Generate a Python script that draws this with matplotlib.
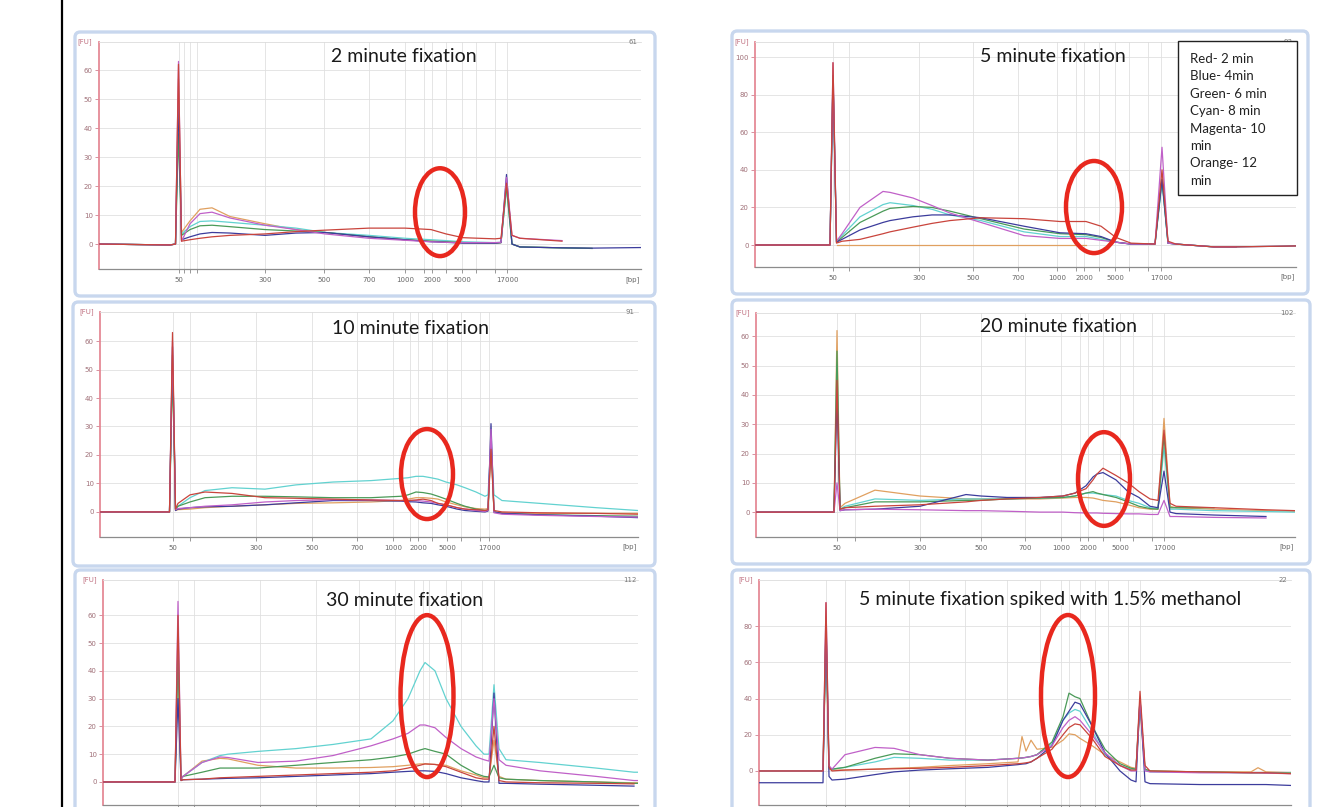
import numpy as np
import matplotlib
matplotlib.use("Agg")
import matplotlib.pyplot as plt
from matplotlib.patches import Ellipse, FancyBboxPatch, Rectangle
from matplotlib.lines import Line2D

nan = np.nan

# ---------------- data ----------------
# x = migration position along each trace, y = fluorescence [FU]
SERIES = ["Red", "Blue", "Green", "Cyan", "Magenta", "Orange"]
LEGEND_LINES = ["Red- 2 min", "Blue- 4min", "Green- 6 min", "Cyan- 8 min",
                "Magenta- 10", "min", "Orange- 12", "min"]

# 2 minute fixation
P1_X = [99, 170, 175.5, 178.5, 181.5, 190, 200, 212, 230, 265, 296, 325, 369, 405,
        431, 446, 463, 495, 501, 506.5, 512, 520, 562, 592, 641]
P1_RED = [0, -0.3, 0, 62, 1, 1.5, 2, 2.5, 3, 3.5, 4.3, 4.8, 5.5, 5.5, 5, 3.5, 2.2, 1.8, 2, 21, 3, 2, 1, nan, nan]
P1_BLUE = [0, -0.3, 0, 50, 1.5, 2.5, 3.5, 4, 3.8, 3, 3.8, 4, 2.5, 1.5, 0.8, 0.6, 0.3, 0.3, 0.5, 24, 0, -1, -1.3, -1.4, -1.2]
P1_GREEN = [0, -0.3, 0, 38, 3, 5, 6.3, 6.5, 6, 5, 4.5, 4, 2.5, 1.5, 1, 0.8, 0.5, 0.3, 0.5, 20, 0, -1, -1.3, -1.5, nan]
P1_CYAN = [0, -0.3, 0, 45, 3.5, 6, 7.8, 8, 7.5, 6.5, 5.5, 4, 3, 2, 1.5, 1.2, 0.8, 0.5, 0.6, 19, 0, -1, -1.3, -1.5, nan]
P1_MAGENTA = [0, -0.3, 0, 63, 1, 7, 10.5, 11, 9, 6.5, 5, 3.5, 2, 1.3, 0.8, 0.6, 0.5, 0.5, 0.6, 23, 3, 2, 1.2, nan, nan]
P1_ORANGE = [0, -0.3, 0, 57, 4, 8, 12, 12.5, 9.5, 7, 5, 4, 2.5, 1.5, 1, 0.8, 0.5, 0.3, 0.5, 20, 0, -1, -1.3, -1.5, nan]
P1_YTICKS = [0, 10, 20, 30, 40, 50, 60]
P1_XTICKS = [179, 184, 190, 197, 265, 324, 369, 405, 424, 432, 446, 462, 476, 495, 507]
P1_XLABELS = ["50", "", "", "", "300", "500", "700", "1000", "", "2000", "", "5000", "", "", "17000"]

# 5 minute fixation
P2_X = [755, 826, 830, 833, 836.5, 842, 860, 883, 890, 913, 932, 950, 981, 1024, 1060,
        1086, 1101, 1116, 1131, 1155, 1162, 1168, 1176, 1214, 1236, 1296]
P2_RED = [0, 0, 0, 97, 1, 2, 3, 6, 7, 9.5, 11.5, 13, 14.5, 14, 12.5, 12.5, 10, 4, 1, 0.5, 40, 2, 0.5, -1, -1, -0.5]
P2_BLUE = [0, 0, 0, 90, 1.5, 3, 8, 12, 13, 15, 16, 16, 14.5, 10, 6.5, 6, 4.5, 1.5, 0.5, 0.5, 35, 1, 0.5, -1, -1, -0.5]
P2_GREEN = [0, 0, 0, 90, 1.5, 4, 12, 18, 19.5, 20.5, 20, 18, 14, 8.5, 6, 5.5, 4, 1.5, 0.5, 0.5, 35, 1, 0.5, -1, -1, nan]
P2_CYAN = [0, 0, 0, 90, 2, 5, 15, 21.5, 22.5, 21, 19, 16, 13, 7, 4.5, 4.5, 3, 1.5, 0.5, 0.5, 33, 1, 0.5, -1, -1, nan]
P2_MAGENTA = [0, 0, 0, 97, 2, 6, 20, 28.5, 28, 25, 21, 17, 12, 5, 3.5, 3.5, 2.5, 1.5, 0.5, 0.5, 52, 1, 0.5, -1, -1, nan]
P2_ORANGE = [nan, nan, nan, nan, 0, 0, 0, 0, 0, 0, 0, 0, 0, 0, 0, 0,
             nan, nan, nan, nan, nan, nan, nan, nan, nan, nan]
P2_YTICKS = [0, 20, 40, 60, 80, 100]
P2_XTICKS = [833, 849, 919, 973, 1018, 1057, 1076, 1084, 1099, 1115, 1129, 1148, 1161]
P2_XLABELS = ["50", "", "300", "500", "700", "1000", "", "2000", "", "5000", "", "", "17000"]

# 10 minute fixation
P3_X = [100, 166, 169.5, 172.5, 175.5, 178, 190, 205, 232, 265, 296, 333, 371, 401, 408, 416,
        423, 431, 438, 446, 457, 465, 476, 485, 488, 491, 494, 502, 540, 596, 638]
P3_RED = [0, 0, 0, 63, 1, 3, 6, 7, 6.5, 5, 4.8, 4.5, 4.2, 4, 4, 4.2, 4.5, 4, 3, 2.5, 1.5, 1, 0.8, 0.5, 0.8, 22, 0.5, 0, -0.3, -0.5, -0.8]
P3_BLUE = [0, 0, 0, 58, 0.5, 1, 1.5, 1.8, 2, 2.5, 3.2, 4, 4, 3.8, 3.6, 3.5, 3.2, 3, 2.5, 2, 1, 0.5, 0.2, 0, 0.3, 31, 0, -0.5, -1, -1.5, -2]
P3_GREEN = [0, 0, 0, 50, 1, 2, 3.5, 5, 5.5, 5.5, 5.3, 5, 5, 5.5, 6, 7, 6.8, 6.3, 5.5, 4.5, 3, 2, 1, 0.5, 0.6, 25, 0, -0.5, -1, -1.3, -1.5]
P3_CYAN = [0, 0, 0, 55, 1, 2, 5, 7.5, 8.5, 8, 9.5, 10.5, 11, 11.8, 12, 12.5, 12.5, 12, 11.5, 10.5, 9.5, 8.5, 7, 5.5, 6, 25, 6, 4, 3, 1.5, 0.5]
P3_MAGENTA = [0, 0, 0, 60, 0.8, 1.2, 1.5, 2, 2.5, 3.5, 4, 4.3, 4.2, 4, 4, 4, 3.8, 3.5, 3, 2.5, 1.5, 1, 0.5, 0.2, 0.5, 29, -0.3, -0.8, -1.2, -1.6, -1.8]
P3_ORANGE = [0, 0, 0, 55, 0.5, 0.8, 1, 1.5, 2, 2.5, 3, 3.2, 3.5, 4, 4.5, 5, 5, 4.8, 4.5, 3.5, 2.5, 1.8, 1.2, 1, 1.2, 24, 0, -0.3, -0.5, -0.5, -0.5]
P3_YTICKS = [0, 10, 20, 30, 40, 50, 60]
P3_XTICKS = [173, 190, 256, 312, 357, 393, 410, 418, 432, 447, 461, 480, 489]
P3_XLABELS = ["50", "", "300", "500", "700", "1000", "", "2000", "", "5000", "", "", "17000"]

# 20 minute fixation
P4_X = [756, 831, 834, 837, 840, 845, 875, 920, 966, 981, 1007, 1040, 1063, 1075, 1086,
        1093, 1097, 1103, 1116, 1128, 1139, 1150, 1158, 1164, 1170, 1176, 1214, 1266, 1295]
P4_RED = [0, 0, 0, 45, 1, 1.5, 2, 2.5, 3.5, 4, 4.5, 5, 5.5, 6.5, 8, 11, 13, 15, 12.5, 10, 7, 4.5, 4, 28, 3, 2, 1.5, 0.8, 0.5]
P4_BLUE = [0, 0, 0, 40, 0.5, 0.8, 1, 2, 6, 5.5, 5, 5, 5.5, 6.5, 9, 12, 13, 13.5, 11, 7, 5, 2, 1.5, 14, 0, -0.5, -1, -1.5, nan]
P4_GREEN = [0, 0, 0, 55, 1, 1.5, 3.5, 3.5, 4, 4, 4.5, 4.8, 5, 5.5, 6.5, 7, 6.5, 6, 5, 3.5, 2, 1.2, 1, 26, 1.5, 1.5, 1.5, nan, nan]
P4_CYAN = [0, 0, 0, 50, 1, 2, 4.5, 4, 4.5, 4.5, 4.5, 4.8, 5, 5.5, 6.5, 6.5, 6.3, 6, 5.5, 4, 3, 1.5, 1.2, 22, 1, 1, 0.5, 0.2, 0]
P4_MAGENTA = [0, 0, 0, 10, 0.5, 0.8, 1, 0.8, 0.5, 0.5, 0.3, 0, 0, -0.2, -0.3, -0.3, -0.3, -0.4, -0.5, -0.6, -0.6, -0.8, -0.8, 4, -1.5, -1.5, -1.8, -2, nan]
P4_ORANGE = [0, 0, 0, 62, 1.5, 3, 7.5, 5.5, 4.5, 4.5, 4.5, 4.5, 4.8, 5, 5, 4.8, 4.5, 4, 3.5, 2.5, 1.5, 1, 1, 32, 2, 1.5, 1, 0.5, 0.3]
P4_YTICKS = [0, 10, 20, 30, 40, 50, 60]
P4_XTICKS = [837, 855, 920, 981, 1025, 1061, 1080, 1088, 1103, 1120, 1133, 1152, 1164]
P4_XLABELS = ["50", "", "300", "500", "700", "1000", "", "2000", "", "5000", "", "", "17000"]

# 30 minute fixation
P5_X = [103, 172, 175, 178, 181, 183, 202, 220, 228, 258, 296, 333, 371, 393, 408, 420,
        425, 435, 446, 461, 476, 484, 489, 494, 499, 506, 540, 596, 634, 638]
P5_RED = [0, 0, 0, 60, 0.5, 0.8, 1, 1.5, 1.6, 2, 2.5, 3, 3.5, 4, 5, 6, 6.5, 6.3, 5.5, 3.5, 1.5, 1, 1, 20, 0.5, 0, -0.3, -0.5, -0.7, nan]
P5_BLUE = [0, 0, 0, 30, 0.5, 0.8, 1, 1.2, 1.3, 1.5, 2, 2.5, 3, 3.5, 3.8, 4, 4, 3.8, 3, 1.5, 0.5, 0, 0, 32, -0.5, -0.5, -0.8, -1.2, -1.5, nan]
P5_GREEN = [0, 0, 0, 45, 1, 2, 3.5, 5, 5, 5, 6, 7, 8, 9, 10, 11.5, 12, 11, 10, 6, 3, 2, 1.8, 6, 1.5, 1, 0.5, 0, -0.5, -0.5]
P5_CYAN = [0, 0, 0, 50, 1, 2, 7, 9.5, 10, 11, 12, 13.5, 15.5, 22, 30, 40, 43, 40, 30, 20, 13, 10, 10, 35, 12, 8, 7, 5, 3.5, 3.5]
P5_MAGENTA = [0, 0, 0, 65, 1, 2, 7, 9, 8.8, 7, 7.5, 9.5, 13, 15.5, 17.5, 20.5, 20.5, 19.5, 16, 12, 9, 8, 7.5, 30, 8, 6, 4, 2, 0.5, 0.5]
P5_ORANGE = [0, 0, 0, 55, 1, 2, 7.5, 8.5, 8.3, 6, 5, 5, 5.2, 5.5, 6, 6.5, 6.5, 6.3, 6, 4, 2.5, 1.5, 1.5, 15, 2, 1, 0.5, 0, -0.3, -0.3]
P5_YTICKS = [0, 10, 20, 30, 40, 50, 60]
P5_XTICKS = [178, 194, 260, 316, 359, 395, 414, 423, 429, 446, 461, 482, 494]
P5_XLABELS = [""] * 13

# 5 minute fixation spiked with 1.5% methanol
P6_X = [759, 820, 823, 826, 829, 832, 845, 875, 894, 920, 950, 988, 1018, 1022, 1026, 1031,
        1037, 1052, 1063, 1069, 1075, 1080, 1092, 1105, 1120, 1131, 1136, 1140, 1145, 1150,
        1200, 1251, 1258, 1266, 1291]
P6_RED = [0, 0, 0, 93, 2, 0, 0.5, 1, 1.2, 1.5, 2, 3, 4, 4.2, 4.5, 5, 7, 12, 20, 24, 26, 25.5, 18, 8, 3, 0.5, 0.5, 44, 3, 0, -0.5, -1, -1, -1, -1.5]
P6_BLUE = [-6.5, -6.5, -6.5, 85, -3, -5, -4.5, -2, -0.5, 0.5, 1.2, 2, 3.5, 3.8, 4, 5, 7, 14, 28, 33, 38, 37, 25, 10, 0, -5, -6, 40, -6, -7, -7.5, -7.5, -7.5, -7.5, -8]
P6_GREEN = [0, 0, 0, 80, 2, 1, 2, 7, 9.5, 9, 7, 6, 7, 7.2, 7.5, 8, 9, 16, 30, 43, 41, 40, 25, 12, 4, 1.5, 1, 40, 1, 0, -0.5, -1, -1, -1, -1.2]
P6_CYAN = [0, 0, 0, 80, 2, 1, 2, 5, 7.5, 7, 6, 6, 7, 7.2, 7.5, 8, 9, 15, 28, 32, 34, 33, 22, 9, 3, 1, 1, 38, 0.5, -0.5, -0.8, -1, -1, -1, -1.2]
P6_MAGENTA = [0, 0, 0, 93, 3, 1, 9, 13, 12.5, 9, 7, 6, 7, 7.2, 7.5, 8, 9, 14, 24, 28, 30, 28, 20, 10, 3, 0, 0, 40, 0, -0.5, -1, -1, -1, -1.2, -1.5]
P6_ORANGE = [0, 0, 0, 70, 1, 0.5, 0.5, 1, 1.5, 2, 3, 4, 5, 19, 11, 17, 12, 13, 17, 20.5, 20, 18, 14, 9, 5, 2, 1.5, 35, 1, 0, -0.5, -0.5, 1.8, -0.5, -1]
P6_YTICKS = [0, 20, 40, 60, 80]
P6_XTICKS = [826, 845, 909, 965, 1007, 1040, 1061, 1069, 1080, 1095, 1108, 1128, 1140]
P6_XLABELS = [""] * 13

# ---------------- layout (reference pixels) ----------------
W, H = 1329, 807
COLORS = {"Red": "#c9443c", "Blue": "#3c3c9c", "Green": "#4a9a58",
          "Cyan": "#62d2d0", "Magenta": "#c060c8", "Orange": "#e0a060"}
DRAW_ORDER = ["Orange", "Cyan", "Green", "Blue", "Magenta", "Red"]

PANELS = [
    dict(title="2 minute fixation", title_xy=(404, 57), frame=(75, 32, 655, 296),
         box=(99, 42, 641, 269), ylim=(-8.6, 69.7), corner="61",
         x=P1_X, traces=[P1_RED, P1_BLUE, P1_GREEN, P1_CYAN, P1_MAGENTA, P1_ORANGE],
         yticks=P1_YTICKS, xticks=P1_XTICKS, xlabels=P1_XLABELS, ring=(440, 11, 50, 30.3)),
    dict(title="5 minute fixation", title_xy=(1053, 57), frame=(732, 31, 1308, 294),
         box=(755, 42, 1296, 267), ylim=(-11.7, 108), corner="93",
         x=P2_X, traces=[P2_RED, P2_BLUE, P2_GREEN, P2_CYAN, P2_MAGENTA, P2_ORANGE],
         yticks=P2_YTICKS, xticks=P2_XTICKS, xlabels=P2_XLABELS, ring=(1094, 20.2, 56, 49)),
    dict(title="10 minute fixation", title_xy=(410, 329), frame=(73, 302, 655, 566),
         box=(100, 312, 638, 537), ylim=(-8.8, 70.2), corner="91",
         x=P3_X, traces=[P3_RED, P3_BLUE, P3_GREEN, P3_CYAN, P3_MAGENTA, P3_ORANGE],
         yticks=P3_YTICKS, xticks=P3_XTICKS, xlabels=P3_XLABELS, ring=(427, 13.3, 52, 31.6)),
    dict(title="20 minute fixation", title_xy=(1058, 327), frame=(732, 300, 1310, 564),
         box=(756, 313, 1295, 537), ylim=(-8.5, 68), corner="102",
         x=P4_X, traces=[P4_RED, P4_BLUE, P4_GREEN, P4_CYAN, P4_MAGENTA, P4_ORANGE],
         yticks=P4_YTICKS, xticks=P4_XTICKS, xlabels=P4_XLABELS, ring=(1104, 11.3, 52, 32)),
    dict(title="30 minute fixation", title_xy=(405, 600), frame=(75, 570, 655, 840),
         box=(103, 580, 638, 805), ylim=(-8.3, 72.7), corner="112",
         x=P5_X, traces=[P5_RED, P5_BLUE, P5_GREEN, P5_CYAN, P5_MAGENTA, P5_ORANGE],
         yticks=P5_YTICKS, xticks=P5_XTICKS, xlabels=P5_XLABELS, ring=(427, 30.9, 53, 58.3)),
    dict(title="5 minute fixation spiked with 1.5% methanol", title_xy=(1050, 600),
         frame=(732, 570, 1310, 840), box=(759, 580, 1291, 805), ylim=(-18.8, 105.5),
         corner="22", x=P6_X,
         traces=[P6_RED, P6_BLUE, P6_GREEN, P6_CYAN, P6_MAGENTA, P6_ORANGE],
         yticks=P6_YTICKS, xticks=P6_XTICKS, xlabels=P6_XLABELS, ring=(1068, 41.4, 54, 89.5)),
]


def fig_box(l, t, r, b):
    return [l / W, 1 - b / H, (r - l) / W, (b - t) / H]


fig = plt.figure(figsize=(W / 100, H / 100), dpi=100)
fig.patch.set_facecolor("white")

# black rule at the left of the slide
fig.add_artist(Line2D([62 / W, 62 / W], [0, 1], transform=fig.transFigure,
                      color="black", lw=1.6))

for p in PANELS:
    l, t, r, b = p["frame"]
    fl, fb, fw, fh = fig_box(l, t, r, b)
    fig.add_artist(FancyBboxPatch((fl, fb), fw, fh, transform=fig.transFigure,
                                  boxstyle="round,pad=0,rounding_size=0.004",
                                  mutation_aspect=W / H, fc="white",
                                  ec="#c8d7ee", lw=2.4, zorder=-1))

    ax = fig.add_axes(fig_box(*p["box"]))
    ax.set_xlim(p["box"][0], p["box"][2])
    ax.set_ylim(*p["ylim"])

    x = np.array(p["x"], dtype=float)
    by_name = dict(zip(SERIES, p["traces"]))
    for name in DRAW_ORDER:
        y = np.array(by_name[name], dtype=float)
        ax.plot(x, y, color=COLORS[name], lw=0.9, solid_joinstyle="round", zorder=3)

    cx, cy, ew, eh = p["ring"]
    ax.add_patch(Ellipse((cx, cy), ew, eh, fill=False, ec="#e8281e", lw=3.2,
                         clip_on=False, zorder=6))

    ax.set_yticks(p["yticks"])
    ax.set_yticklabels([str(v) for v in p["yticks"]])
    ax.set_xticks(p["xticks"])
    ax.set_xticklabels(p["xlabels"])
    ax.grid(True, color="#e0e0e0", lw=0.6)
    ax.set_axisbelow(True)
    ax.spines["right"].set_visible(False)
    ax.spines["top"].set_color("#dcdcdc")
    ax.spines["top"].set_linewidth(0.6)
    ax.spines["left"].set_color("#e58a96")
    ax.spines["left"].set_linewidth(1.3)
    ax.spines["bottom"].set_color("#8c8c8c")
    ax.spines["bottom"].set_linewidth(0.9)
    ax.tick_params(axis="y", length=3, width=0.6, color="#d08090",
                   labelsize=5, labelcolor="#a07078", pad=1.5)
    ax.tick_params(axis="x", length=3, width=0.6, color="#888888",
                   labelsize=5, labelcolor="#666666", pad=2.5)

    ax.text(-0.012, 1.0, "[FU]", transform=ax.transAxes, ha="right", va="center",
            fontsize=5, color="#c07080")
    ax.text(0.985, 1.0, p["corner"], transform=ax.transAxes, ha="center",
            va="center", fontsize=5, color="#777777")
    if p["box"][3] < 700:
        ax.text(0.985, -0.045, "[bp]", transform=ax.transAxes, ha="center",
                va="center", fontsize=5, color="#666666")

    tx, ty = p["title_xy"]
    fig.text(tx / W, 1 - ty / H, p["title"], ha="center", va="center",
             fontsize=14, family="Lato", color="#1a1a1a", zorder=7)

# colour key box in the 5 minute panel
lb = fig_box(1178, 41, 1297, 195)
fig.add_artist(Rectangle((lb[0], lb[1]), lb[2], lb[3], transform=fig.transFigure,
                         fc="white", ec="#222222", lw=1.0, zorder=8))
for i, line in enumerate(LEGEND_LINES):
    fig.text(1190 / W, 1 - (59 + i * 17.4) / H, line, ha="left", va="center",
             fontsize=9.5, family="Lato", color="#222222", zorder=9)

fig.savefig("out.png", dpi=100)
